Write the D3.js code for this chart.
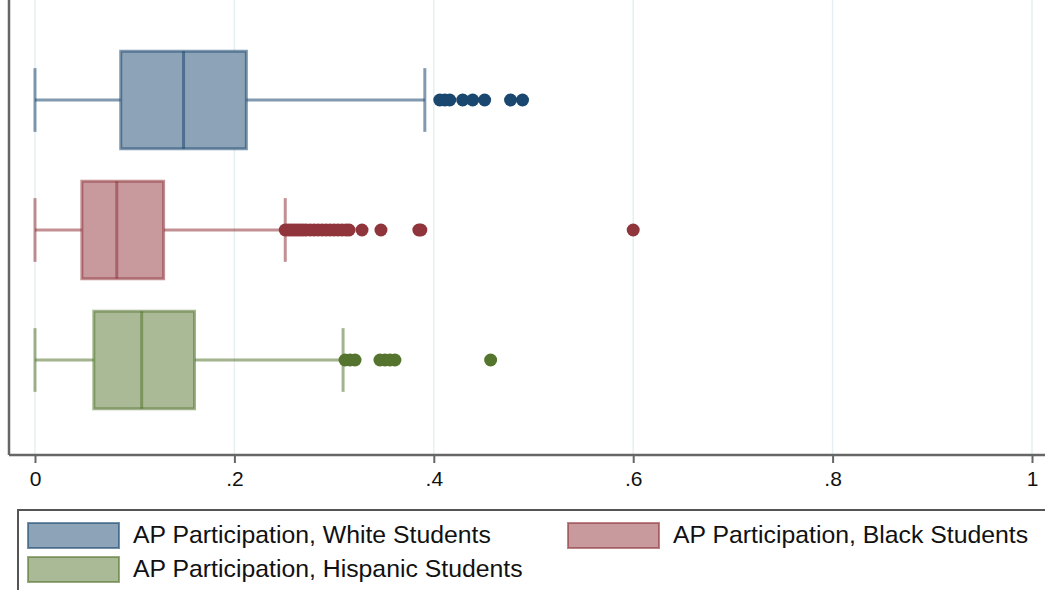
<!DOCTYPE html>
<html>
<head>
<meta charset="utf-8">
<script src="https://cdn.jsdelivr.net/npm/d3@7"></script>
<style>
  html, body { margin: 0; padding: 0; background: #fff; }
  svg { display: block; font-family: "Liberation Sans", Arial, Helvetica, sans-serif; }
</style>
</head>
<body>
<svg id="chart" width="1045" height="590"></svg>
<script>
// ---- data ----
const categories = ["AP Participation, White Students", "AP Participation, Black Students", "AP Participation, Hispanic Students"];
const colors = ["#1a476f", "#90353b", "#55752f"];
const whiskerLow = [0, 0, 0];
const q1 = [0.086, 0.047, 0.059];
const median = [0.149, 0.082, 0.107];
const q3 = [0.212, 0.129, 0.160];
const whiskerHigh = [0.391, 0.251, 0.309];
const outliersWhite = [0.406, 0.411, 0.416, 0.429, 0.439, 0.451, 0.477, 0.489];
const outliersBlack = [0.251, 0.254, 0.257, 0.260, 0.263, 0.266, 0.269, 0.272, 0.276, 0.280, 0.284, 0.288, 0.292, 0.296, 0.300, 0.304, 0.308, 0.312, 0.315, 0.328, 0.347, 0.385, 0.387, 0.600];
const outliersHispanic = [0.311, 0.316, 0.321, 0.346, 0.351, 0.356, 0.361, 0.457];
const outliers = [outliersWhite, outliersBlack, outliersHispanic];
const xTicks = [0, 0.2, 0.4, 0.6, 0.8, 1];
const xTickLabels = ["0", ".2", ".4", ".6", ".8", "1"];

// ---- chart ----
const svg = d3.select("#chart");
const plotTop = 0, plotBottom = 455, axisLeft = 9;

const x = d3.scaleLinear().domain([0, 1]).range([35, 1032]);
const y = d3.scaleBand().domain(categories).range([35, 425]).padding(0);
const bw = y.bandwidth();
const boxH = bw * 0.75;
const capH = bw * 0.49;

// gridlines
svg.append("g").selectAll("line").data(xTicks).join("line")
  .attr("x1", d => x(d)).attr("x2", d => x(d))
  .attr("y1", plotTop).attr("y2", plotBottom)
  .attr("stroke", "#e6eff1").attr("stroke-width", 1.5);

// boxes
const g = svg.append("g");
categories.forEach((c, i) => {
  const cy = y(c) + bw / 2;
  const col = colors[i];
  const fill = d3.interpolateRgb(col, "#ffffff")(0.5);
  const lineAttrs = sel => sel.attr("stroke", col).attr("stroke-opacity", 0.55).attr("stroke-width", 3);
  // whiskers
  g.append("line").attr("x1", x(whiskerLow[i])).attr("x2", x(q1[i])).attr("y1", cy).attr("y2", cy).call(lineAttrs);
  g.append("line").attr("x1", x(q3[i])).attr("x2", x(whiskerHigh[i])).attr("y1", cy).attr("y2", cy).call(lineAttrs);
  // caps
  [whiskerLow[i], whiskerHigh[i]].forEach(v => {
    g.append("line").attr("x1", x(v)).attr("x2", x(v)).attr("y1", cy - capH / 2).attr("y2", cy + capH / 2).call(lineAttrs);
  });
  // box
  g.append("rect").attr("x", x(q1[i])).attr("y", cy - boxH / 2)
    .attr("width", x(q3[i]) - x(q1[i])).attr("height", boxH)
    .attr("fill", fill).call(lineAttrs);
  g.append("line").attr("x1", x(median[i])).attr("x2", x(median[i]))
    .attr("y1", cy - boxH / 2).attr("y2", cy + boxH / 2).call(lineAttrs);
  // outliers
  g.append("g").selectAll("circle").data(outliers[i]).join("circle")
    .attr("cx", d => x(d)).attr("cy", cy).attr("r", 6.5)
    .attr("fill", col);
});

// axes
const xAxis = d3.axisBottom(x).tickValues(xTicks).tickFormat((d, i) => xTickLabels[i]).tickSize(8).tickPadding(8);
const ax = svg.append("g").attr("transform", `translate(0,${plotBottom})`).call(xAxis);
ax.select(".domain").remove();
ax.selectAll(".tick line").attr("stroke", "#666").attr("stroke-width", 2);
ax.selectAll(".tick text").attr("font-size", 21).attr("fill", "#111")
  .attr("font-family", "'Liberation Sans', Arial, sans-serif");
svg.append("line").attr("x1", axisLeft).attr("x2", 1045).attr("y1", plotBottom).attr("y2", plotBottom)
  .attr("stroke", "#666").attr("stroke-width", 2.5);
svg.append("line").attr("x1", axisLeft).attr("x2", axisLeft).attr("y1", plotTop).attr("y2", plotBottom)
  .attr("stroke", "#666").attr("stroke-width", 2.5);

// legend
const leg = svg.append("g");
leg.append("rect").attr("x", 18).attr("y", 510).attr("width", 1040).attr("height", 90)
  .attr("fill", "none").attr("stroke", "#555").attr("stroke-width", 2);
const legPos = [[28, 523], [568, 523], [28, 557]];
categories.forEach((c, i) => {
  const [lx, ly] = legPos[i];
  leg.append("rect").attr("x", lx).attr("y", ly).attr("width", 91).attr("height", 25)
    .attr("fill", d3.interpolateRgb(colors[i], "#ffffff")(0.5))
    .attr("stroke", colors[i]).attr("stroke-opacity", 0.6).attr("stroke-width", 2);
  leg.append("text").attr("x", lx + 105).attr("y", ly + 20)
    .attr("font-size", 24.8).attr("fill", "#111").text(c);
});
</script>
</body>
</html>
